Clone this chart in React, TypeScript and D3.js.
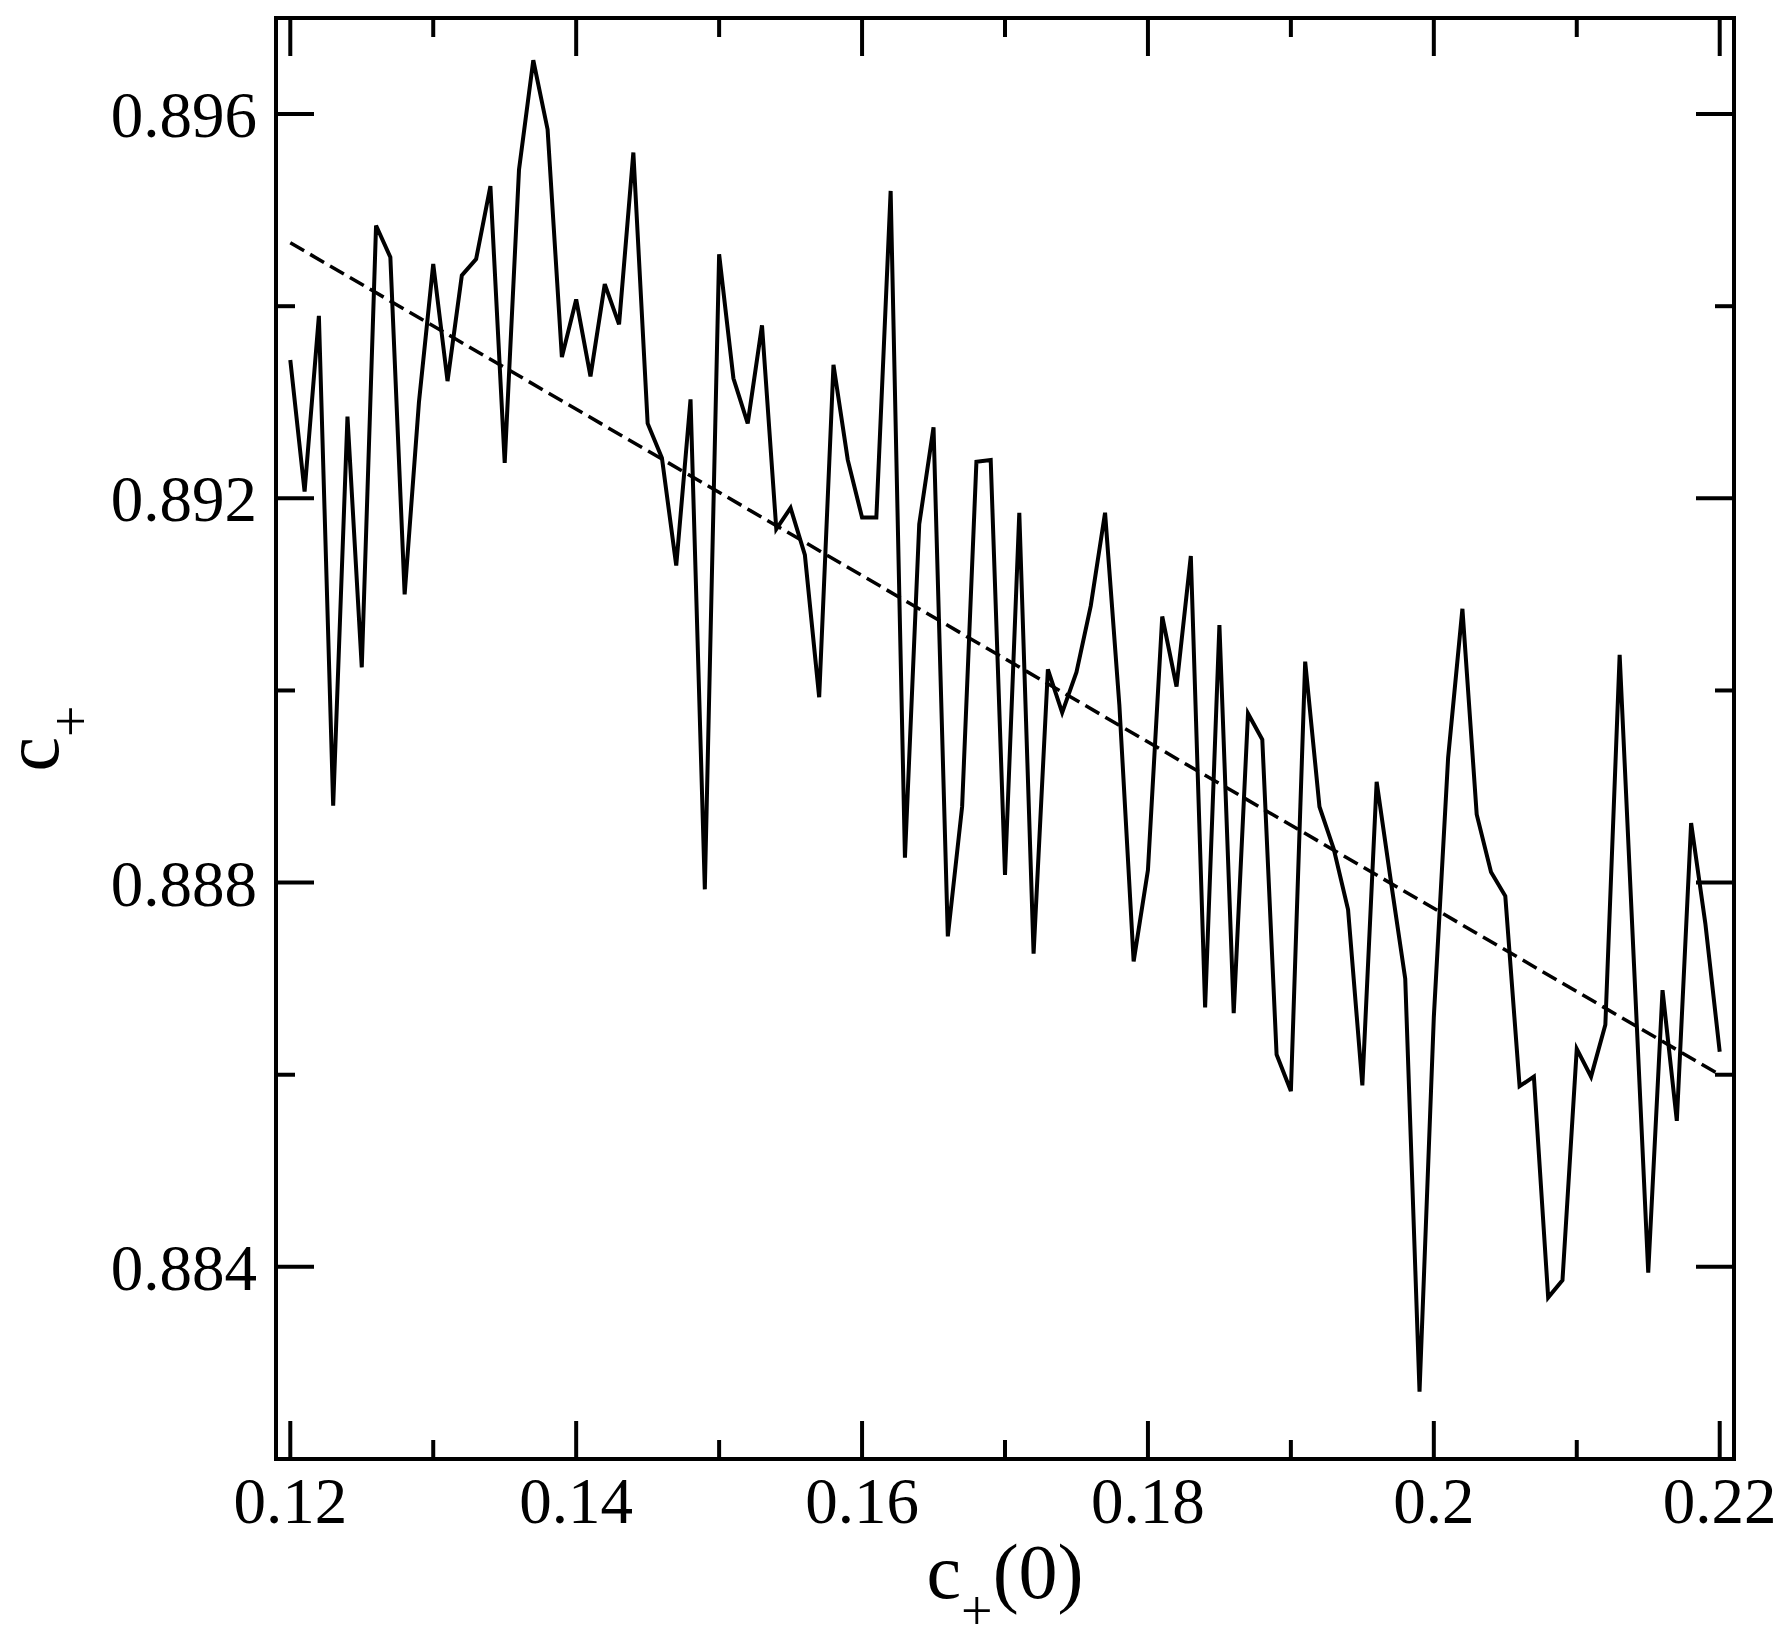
import { useMemo } from 'react';
import * as d3 from 'd3';

// c+(0) sample points, step 0.001
const cInit = [
  0.12, 0.121, 0.122, 0.123, 0.124, 0.125, 0.126, 0.127, 0.128, 0.129,
  0.13, 0.131, 0.132, 0.133, 0.134, 0.135, 0.136, 0.137, 0.138, 0.139,
  0.14, 0.141, 0.142, 0.143, 0.144, 0.145, 0.146, 0.147, 0.148, 0.149,
  0.15, 0.151, 0.152, 0.153, 0.154, 0.155, 0.156, 0.157, 0.158, 0.159,
  0.16, 0.161, 0.162, 0.163, 0.164, 0.165, 0.166, 0.167, 0.168, 0.169,
  0.17, 0.171, 0.172, 0.173, 0.174, 0.175, 0.176, 0.177, 0.178, 0.179,
  0.18, 0.181, 0.182, 0.183, 0.184, 0.185, 0.186, 0.187, 0.188, 0.189,
  0.19, 0.191, 0.192, 0.193, 0.194, 0.195, 0.196, 0.197, 0.198, 0.199,
  0.2, 0.201, 0.202, 0.203, 0.204, 0.205, 0.206, 0.207, 0.208, 0.209,
  0.21, 0.211, 0.212, 0.213, 0.214, 0.215, 0.216, 0.217, 0.218, 0.219,
  0.22,
];

// measured c+
const cPlus = [
  0.89344, 0.89207, 0.8939, 0.8888, 0.89285, 0.89024, 0.89484, 0.89451, 0.891, 0.893,
  0.89444, 0.89322, 0.89432, 0.89449, 0.89525, 0.89237, 0.89542, 0.89656, 0.89584, 0.89347,
  0.89407, 0.89327, 0.89423, 0.89381, 0.8956, 0.89278, 0.89242, 0.8913, 0.89303, 0.88793,
  0.89454, 0.89325, 0.89278, 0.8938, 0.89168, 0.8919, 0.89141, 0.88993, 0.89339, 0.8924,
  0.8918, 0.8918, 0.8952, 0.88826, 0.89173, 0.89274, 0.88744, 0.88879, 0.89238, 0.8924,
  0.88808, 0.89185, 0.88726, 0.89022, 0.88977, 0.89019, 0.89088, 0.89185, 0.88985, 0.88718,
  0.88813, 0.89077, 0.89004, 0.8914, 0.8867, 0.89068, 0.88664, 0.88976, 0.88949, 0.88621,
  0.88583, 0.8903, 0.88879, 0.88835, 0.88772, 0.88589, 0.88905, 0.88801, 0.887, 0.8827,
  0.8866, 0.8893, 0.89085, 0.88871, 0.88811, 0.88786, 0.88588, 0.88598, 0.88368, 0.88386,
  0.88627, 0.88598, 0.88652, 0.89037, 0.88716, 0.88394, 0.88688, 0.88552, 0.88862, 0.88757,
  0.88624,
];

// linear fit (dashed)
const fitX = [0.12, 0.22];
const fitY = [0.89466, 0.886];

const xMajor = [0.12, 0.14, 0.16, 0.18, 0.2, 0.22];
const xMajorLabels = ['0.12', '0.14', '0.16', '0.18', '0.2', '0.22'];
const xMinor = [0.13, 0.15, 0.17, 0.19, 0.21];
const yMajor = [0.884, 0.888, 0.892, 0.896];
const yMajorLabels = ['0.884', '0.888', '0.892', '0.896'];
const yMinor = [0.886, 0.89, 0.894];

const W = 1792;
const H = 1642;
const left = 276;
const top = 18;
const plotW = 1458;
const plotH = 1441;
const FONT = '"Liberation Serif", "Times New Roman", serif';

export default function App() {
  const x = useMemo(() => d3.scaleLinear().domain([0.119, 0.221]).range([left, left + plotW]), []);
  const y = useMemo(() => d3.scaleLinear().domain([0.882, 0.897]).range([top + plotH, top]), []);

  const line = d3
    .line<number>()
    .x((_, i) => x(cInit[i]))
    .y((d) => y(d));

  const fitLine = d3
    .line<number>()
    .x((_, i) => x(fitX[i]))
    .y((d) => y(d));

  const bottom = top + plotH;
  const right = left + plotW;
  const majorLen = 38;
  const minorLen = 19;

  return (
    <svg
      width={W}
      height={H}
      viewBox={`0 0 ${W} ${H}`}
      style={{ position: 'absolute', left: 0, top: 0, background: '#fff' }}
    >
      <rect x={0} y={0} width={W} height={H} fill="#fff" />

      {/* data */}
      <path d={fitLine(fitY) ?? ''} fill="none" stroke="#000" strokeWidth={3.5} strokeDasharray="16,7" />
      <path d={line(cPlus) ?? ''} fill="none" stroke="#000" strokeWidth={4} strokeLinejoin="miter" />

      {/* ticks, all four sides, pointing in */}
      <g stroke="#000" strokeWidth={4}>
        {xMajor.map((t) => (
          <g key={`xM${t}`}>
            <line x1={x(t)} x2={x(t)} y1={bottom} y2={bottom - majorLen} />
            <line x1={x(t)} x2={x(t)} y1={top} y2={top + majorLen} />
          </g>
        ))}
        {xMinor.map((t) => (
          <g key={`xm${t}`}>
            <line x1={x(t)} x2={x(t)} y1={bottom} y2={bottom - minorLen} />
            <line x1={x(t)} x2={x(t)} y1={top} y2={top + minorLen} />
          </g>
        ))}
        {yMajor.map((t) => (
          <g key={`yM${t}`}>
            <line x1={left} x2={left + majorLen} y1={y(t)} y2={y(t)} />
            <line x1={right} x2={right - majorLen} y1={y(t)} y2={y(t)} />
          </g>
        ))}
        {yMinor.map((t) => (
          <g key={`ym${t}`}>
            <line x1={left} x2={left + minorLen} y1={y(t)} y2={y(t)} />
            <line x1={right} x2={right - minorLen} y1={y(t)} y2={y(t)} />
          </g>
        ))}
      </g>

      {/* frame */}
      <rect x={left} y={top} width={plotW} height={plotH} fill="none" stroke="#000" strokeWidth={4} />

      {/* tick labels */}
      <g fontFamily={FONT} fontSize={65} fill="#000">
        {xMajor.map((t, i) => (
          <text key={`xl${t}`} x={x(t)} y={bottom + 64} textAnchor="middle">
            {xMajorLabels[i]}
          </text>
        ))}
        {yMajor.map((t, i) => (
          <text key={`yl${t}`} x={left - 19} y={y(t) + 23} textAnchor="end">
            {yMajorLabels[i]}
          </text>
        ))}
      </g>

      {/* axis titles */}
      <text x={left + plotW / 2} y={1598} textAnchor="middle" fontFamily={FONT} fontSize={78} fill="#000">
        c
        <tspan fontSize={56} dy={32}>+</tspan>
        <tspan dy={-32}>(0)</tspan>
      </text>
      <text
        transform={`translate(58, ${top + plotH / 2}) rotate(-90)`}
        textAnchor="middle"
        fontFamily={FONT}
        fontSize={78}
        fill="#000"
      >
        c
        <tspan fontSize={56} dy={32}>+</tspan>
      </text>
    </svg>
  );
}
